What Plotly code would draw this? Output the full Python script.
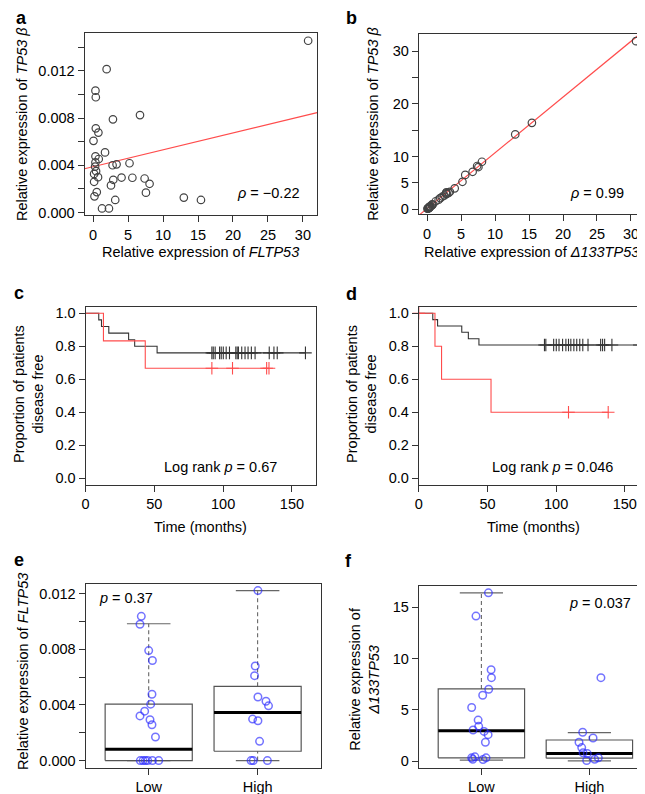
import plotly.graph_objects as go

W, H = 645, 794
FONT = "Liberation Sans, Arial, Helvetica, sans-serif"
FS = 14.5

# ---------------- data ----------------
# panel a / b : expression scatter
fl_expr = [30.75, 1.93, 0.33, 0.38, 2.83, 6.70, 0.38, 0.75, 0.05, 1.70, 0.33, 0.80,
           0.33, 0.28, 2.78, 3.35, 5.20, 0.42, 0.14, 0.70, 4.06, 5.61, 7.36, 2.88,
           8.07, 0.14, 2.55, 0.52, 0.19, 7.55, 3.16, 12.97, 15.42, 1.27, 2.26]
tp53b_a = [0.01455, 0.01214, 0.01032, 0.00976, 0.00789, 0.00825, 0.00713, 0.00677,
           0.00607, 0.00509, 0.00476, 0.00453, 0.00425, 0.00389, 0.00400, 0.00408,
           0.00417, 0.00350, 0.00327, 0.00299, 0.00296, 0.00294, 0.00288, 0.00277,
           0.00243, 0.00260, 0.00229, 0.00173, 0.00137, 0.00168, 0.00106, 0.00126,
           0.00106, 0.00034, 0.00034]
tp53b_b = [31.9, 2.1, 0.4, 0.45, 3.2, 7.1, 0.5, 0.9, 0.1, 1.8, 0.35, 0.85, 0.3, 0.25,
           3.0, 3.3, 5.2, 0.5, 0.2, 0.7, 3.95, 6.5, 8.2, 2.9, 9.0, 0.1, 2.6, 0.55,
           0.15, 8.0, 3.1, 14.2, 16.4, 1.5, 2.4]
fit_a = {"intercept": 0.00388, "slope": 0.000143}
fit_b = {"intercept": 0.13, "slope": 1.058}
rho_a = "−0.22"
rho_b = "0.99"

# panel c / d : Kaplan-Meier steps (time in months, survival proportion)
c_black_t = [0, 9.6, 11.6, 16.9, 31.3, 35.7, 52.0, 159.8]
c_black_s = [1.0, 0.96, 0.92, 0.88, 0.84, 0.80, 0.76, 0.76]
c_black_cens = [91.8, 92.8, 94.2, 97.4, 98.6, 100.1, 102.2, 104.6, 109.2, 110.2, 111.1,
                113.5, 115.9, 118.1, 120.5, 123.2, 133.5, 136.9, 139.3, 159.8]
c_red_t = [0, 13.0, 43.4, 133.3]
c_red_s = [1.0, 0.833, 0.667, 0.667]
c_red_cens = [91.8, 106.8, 131.6, 133.3]
c_pval = "0.67"

d_black_t = [0, 10.2, 13.7, 31.3, 36.1, 43.8, 160.6]
d_black_s = [1.0, 0.962, 0.923, 0.885, 0.846, 0.808, 0.808]
d_black_cens = [91.5, 92.5, 98.2, 100.1, 102.1, 104.7, 107.1, 109.0, 110.7, 112.9, 115.0,
                117.2, 119.4, 123.2, 132.4, 133.8, 135.3, 140.6, 160.6]
d_red_t = [0, 11.8, 16.6, 52.6, 137.9]
d_red_s = [1.0, 0.8, 0.6, 0.4, 0.4]
d_red_cens = [0.0, 109.0, 137.9]
d_pval = "0.046"

# panel e / f : box plots (Low = 1, High = 2)
groups = ["Low", "High"]
e_stats = {  # lower whisker, Q1, median, Q3, upper whisker
    "Low": [0.0, 0.0, 0.00081, 0.00405, 0.00983],
    "High": [0.0, 0.00067, 0.00345, 0.00533, 0.01221],
}
e_low = [0.01036, 0.00979, 0.0079, 0.00719, 0.00476, 0.00405, 0.00355, 0.00321, 0.00293,
         0.00257, 0.00169, 0, 0, 0, 0, 0, 0]
e_low_jit = [-0.068, -0.08, 0, 0.034, 0.03, 0.018, -0.037, -0.08, 0.012, 0.03, 0.062,
             -0.077, -0.052, -0.031, -0.009, 0.034, 0.092]
e_high = [0.01221, 0.00679, 0.0061, 0.00457, 0.00426, 0.00393, 0.00298, 0.00286,
          0.00138, 0, 0, 0]
e_high_jit = [0.003, -0.022, -0.028, 0.003, 0.077, 0.1, -0.046, 0.003, 0.018, -0.06,
              -0.04, 0.09]
e_pval = "0.37"

f_stats = {
    "Low": [0.10, 0.32, 2.97, 7.03, 16.39],
    "High": [0.03, 0.29, 0.74, 2.06, 2.77],
}
f_low = [16.39, 14.13, 8.9, 8.13, 7.0, 6.42, 5.23, 4.0, 3.39, 3.03, 2.9, 2.58, 1.84,
         0.32, 0.42, 0.16, 0.32, 0.19]
f_low_jit = [0.065, -0.05, 0.09, 0.093, 0.068, 0.012, -0.09, -0.03, -0.025, -0.077,
             0.025, 0.062, 0.037, -0.09, -0.06, 0.015, 0.043, -0.08]
f_high = [8.13, 2.81, 2.26, 1.84, 1.32, 0.81, 0.74, 0.06, 0.19, 0.32]
f_high_jit = [0.107, -0.062, 0.034, -0.096, -0.071, -0.059, -0.019, -0.025, 0.049, 0.083]
f_pval = "0.037"

# ---------------- styling ----------------
AX = "#333333"
GREY_PT = "#444444"
RED = "#ff4c4c"
BLUE = "rgba(40,40,255,0.65)"


def px_dom_x(a, b):
    return [a / W, b / W]


def px_dom_y(top, bottom):
    return [1 - bottom / H, 1 - top / H]


def axis(domain, rng, tickvals, ticktext, anchor):
    return dict(domain=domain, range=rng, tickvals=tickvals, ticktext=ticktext,
                anchor=anchor, showline=True, mirror=True, linecolor=AX, linewidth=1,
                ticks="outside", ticklen=6, tickwidth=1, tickcolor=AX,
                showgrid=False, zeroline=False,
                tickfont=dict(family=FONT, size=FS, color="black"))


fig = go.Figure()
layout = dict(width=W, height=H, margin=dict(l=0, r=0, t=0, b=0),
              paper_bgcolor="white", plot_bgcolor="white", showlegend=False,
              font=dict(family=FONT, size=FS, color="black"))

# axis ranges
xr_ab = [-1.23, 32.03]
yr_a = [-0.00025, 0.01522]
yr_b = [-1.0, 33.3]
xr_cd = [0, 167.4]
yr_cd = [-0.04, 1.04]
xr_ef = [0.42, 2.58]
yr_e = [-0.0005, 0.01269]
yr_f = [-0.62, 17.03]

# panel a
layout["xaxis"] = axis(px_dom_x(73, 307), xr_ab, [0, 5, 10, 15, 20, 25, 30],
                       ["0", "5", "10", "15", "20", "25", "30"], "y")
layout["yaxis"] = axis(px_dom_y(24, 208), yr_a,
                       [0, 0.002, 0.004, 0.006, 0.008, 0.010, 0.012, 0.014],
                       ["0.000", "", "0.004", "", "0.008", "", "0.012", ""], "x")
# panel b
layout["xaxis2"] = axis(px_dom_x(409.3, 636.7), xr_ab, [0, 5, 10, 15, 20, 25, 30],
                        ["0", "5", "10", "15", "20", "25", "30"], "y2")
layout["yaxis2"] = axis(px_dom_y(25, 207), yr_b, [0, 5, 10, 15, 20, 25, 30],
                        ["0", "5", "10", "", "20", "", "30"], "x2")
# panel c
layout["xaxis3"] = axis(px_dom_x(74, 305.8), xr_cd, [0, 50, 100, 150],
                        ["0", "50", "100", "150"], "y3")
layout["yaxis3"] = axis(px_dom_y(300, 479.3), yr_cd, [0, 0.2, 0.4, 0.6, 0.8, 1.0],
                        ["0.0", "0.2", "0.4", "0.6", "0.8", "1.0"], "x3")
# panel d
layout["xaxis4"] = axis(px_dom_x(409.3, 640.7), xr_cd, [0, 50, 100, 150],
                        ["0", "50", "100", "150"], "y4")
layout["yaxis4"] = axis(px_dom_y(300, 479.3), yr_cd, [0, 0.2, 0.4, 0.6, 0.8, 1.0],
                        ["0.0", "0.2", "0.4", "0.6", "0.8", "1.0"], "x4")
# panel e
layout["xaxis5"] = axis(px_dom_x(74, 310.7), xr_ef, [1, 2], groups, "y5")
layout["yaxis5"] = axis(px_dom_y(579.3, 764.3), yr_e,
                        [0, 0.002, 0.004, 0.006, 0.008, 0.010, 0.012],
                        ["0.000", "", "0.004", "", "0.008", "", "0.012"], "x5")
# panel f
layout["xaxis6"] = axis(px_dom_x(409.3, 644), xr_ef, [1, 2], groups, "y6")
layout["yaxis6"] = axis(px_dom_y(581.7, 764.3), yr_f, [0, 5, 10, 15],
                        ["0", "5", "10", "15"], "x6")

# ---------------- panel a & b traces ----------------
for xa, ya, yvals, fit in [("x", "y", tp53b_a, fit_a), ("x2", "y2", tp53b_b, fit_b)]:
    fig.add_trace(go.Scatter(
        x=xr_ab, y=[fit["intercept"] + fit["slope"] * v for v in xr_ab],
        mode="lines", line=dict(color=RED, width=1.2), xaxis=xa, yaxis=ya,
        hoverinfo="skip"))
    fig.add_trace(go.Scatter(
        x=fl_expr, y=yvals, mode="markers", xaxis=xa, yaxis=ya,
        marker=dict(symbol="circle-open", size=7.5, color=GREY_PT,
                    line=dict(width=1.2, color=GREY_PT))))


# ---------------- KM traces ----------------
def km(xa, ya, t, s, cens, color):
    fig.add_trace(go.Scatter(x=t, y=s, mode="lines", line_shape="hv",
                             line=dict(color=color, width=1.1), xaxis=xa, yaxis=ya,
                             cliponaxis=False))
    cy = []
    for c in cens:
        lvl = s[0]
        for ti, si in zip(t, s):
            if ti <= c:
                lvl = si
        cy.append(lvl)
    fig.add_trace(go.Scatter(x=cens, y=cy, mode="markers", xaxis=xa, yaxis=ya,
                             cliponaxis=False,
                             marker=dict(symbol="cross-thin", size=9, color=color,
                                         line=dict(width=1.1, color=color))))


km("x3", "y3", c_black_t, c_black_s, c_black_cens, AX)
km("x3", "y3", c_red_t, c_red_s, c_red_cens, RED)
km("x4", "y4", d_black_t, d_black_s, d_black_cens, AX)
km("x4", "y4", d_red_t, d_red_s, d_red_cens, RED)


# ---------------- box plots ----------------
def boxplot(xa, ya, stats, pts):
    for gi, g in enumerate(groups):
        c = gi + 1
        lw, q1, med, q3, uw = stats[g]
        hw, cw = 0.4, 0.2
        fig.add_trace(go.Scatter(x=[c, c], y=[q3, uw], mode="lines", xaxis=xa, yaxis=ya,
                                 line=dict(color="#666666", width=1.1, dash="4px,3px")))
        fig.add_trace(go.Scatter(x=[c, c], y=[lw, q1], mode="lines", xaxis=xa, yaxis=ya,
                                 line=dict(color="#666666", width=1.1, dash="4px,3px")))
        for v in (lw, uw):
            fig.add_trace(go.Scatter(x=[c - cw, c + cw], y=[v, v], mode="lines",
                                     xaxis=xa, yaxis=ya,
                                     line=dict(color="#666666", width=1.2)))
        fig.add_trace(go.Scatter(x=[c - hw, c + hw, c + hw, c - hw, c - hw],
                                 y=[q1, q1, q3, q3, q1], mode="lines", xaxis=xa, yaxis=ya,
                                 line=dict(color="#555555", width=1.2)))
        fig.add_trace(go.Scatter(x=[c - hw, c + hw], y=[med, med], mode="lines",
                                 xaxis=xa, yaxis=ya, line=dict(color="black", width=3)))
    for gi, (vals, jit) in enumerate(pts):
        fig.add_trace(go.Scatter(x=[gi + 1 + j for j in jit], y=vals, mode="markers",
                                 xaxis=xa, yaxis=ya, cliponaxis=False,
                                 marker=dict(symbol="circle-open", size=7.5, color=BLUE,
                                             line=dict(width=1.5, color=BLUE))))


boxplot("x5", "y5", e_stats, [(e_low, e_low_jit), (e_high, e_high_jit)])
boxplot("x6", "y6", f_stats, [(f_low, f_low_jit), (f_high, f_high_jit)])

# ---------------- annotations ----------------
ann = []


def txt(x, y, text, xref="paper", yref="paper", size=FS, angle=0, xanchor="center",
        yanchor="middle"):
    ann.append(dict(x=x, y=y, xref=xref, yref=yref, text=text, showarrow=False,
                    textangle=angle, xanchor=xanchor, yanchor=yanchor,
                    font=dict(family=FONT, size=size, color="black")))


# panel letters
for lab, px, py in [("a", 2, 9.5), ("b", 334, 9), ("c", 0, 286), ("d", 334, 287),
                    ("e", 0, 555), ("f", 333, 556)]:
    txt(px / W, 1 - py / H, "<b>%s</b>" % lab, size=18, xanchor="left")

# axis titles
txt(10 / W, 1 - 116 / H, "Relative expression of <i>TP53 β</i>", angle=-90)
txt(190 / W, 1 - 245 / H, "Relative expression of <i>FLTP53</i>")
txt(363 / W, 1 - 116 / H, "Relative expression of <i>TP53 β</i>", angle=-90)
txt(523 / W, 1 - 245 / H, "Relative expression of <i>Δ133TP53</i>")
txt(16 / W, 1 - 388 / H, "Proportion of patients<br>disease free", angle=-90)
txt(190 / W, 1 - 522 / H, "Time (months)")
txt(351 / W, 1 - 388 / H, "Proportion of patients<br>disease free", angle=-90)
txt(525 / W, 1 - 522 / H, "Time (months)")
txt(11 / W, 1 - 667 / H, "Relative expression of <i>FLTP53</i>", angle=-90)
txt(355 / W, 1 - 675 / H, "Relative expression of<br><i>Δ133TP53</i>", angle=-90)

# statistics
txt(29.8, 0.00165, "<i>ρ</i> = " + rho_a, xref="x", yref="y", xanchor="right")
txt(29.3, 3.1, "<i>ρ</i> = " + rho_b, xref="x2", yref="y2", xanchor="right")
txt(98, 0.065, "Log rank <i>p</i> = " + c_pval, xref="x3", yref="y3")
txt(97.5, 0.065, "Log rank <i>p</i> = " + d_pval, xref="x4", yref="y4")
txt(0.525, 0.0117, "<i>p</i> = " + e_pval, xref="x5", yref="y5", xanchor="left")
txt(2.405, 15.4, "<i>p</i> = " + f_pval, xref="x6", yref="y6", xanchor="right")

layout["annotations"] = ann
fig.update_layout(**layout)
fig.write_html("out.html")
